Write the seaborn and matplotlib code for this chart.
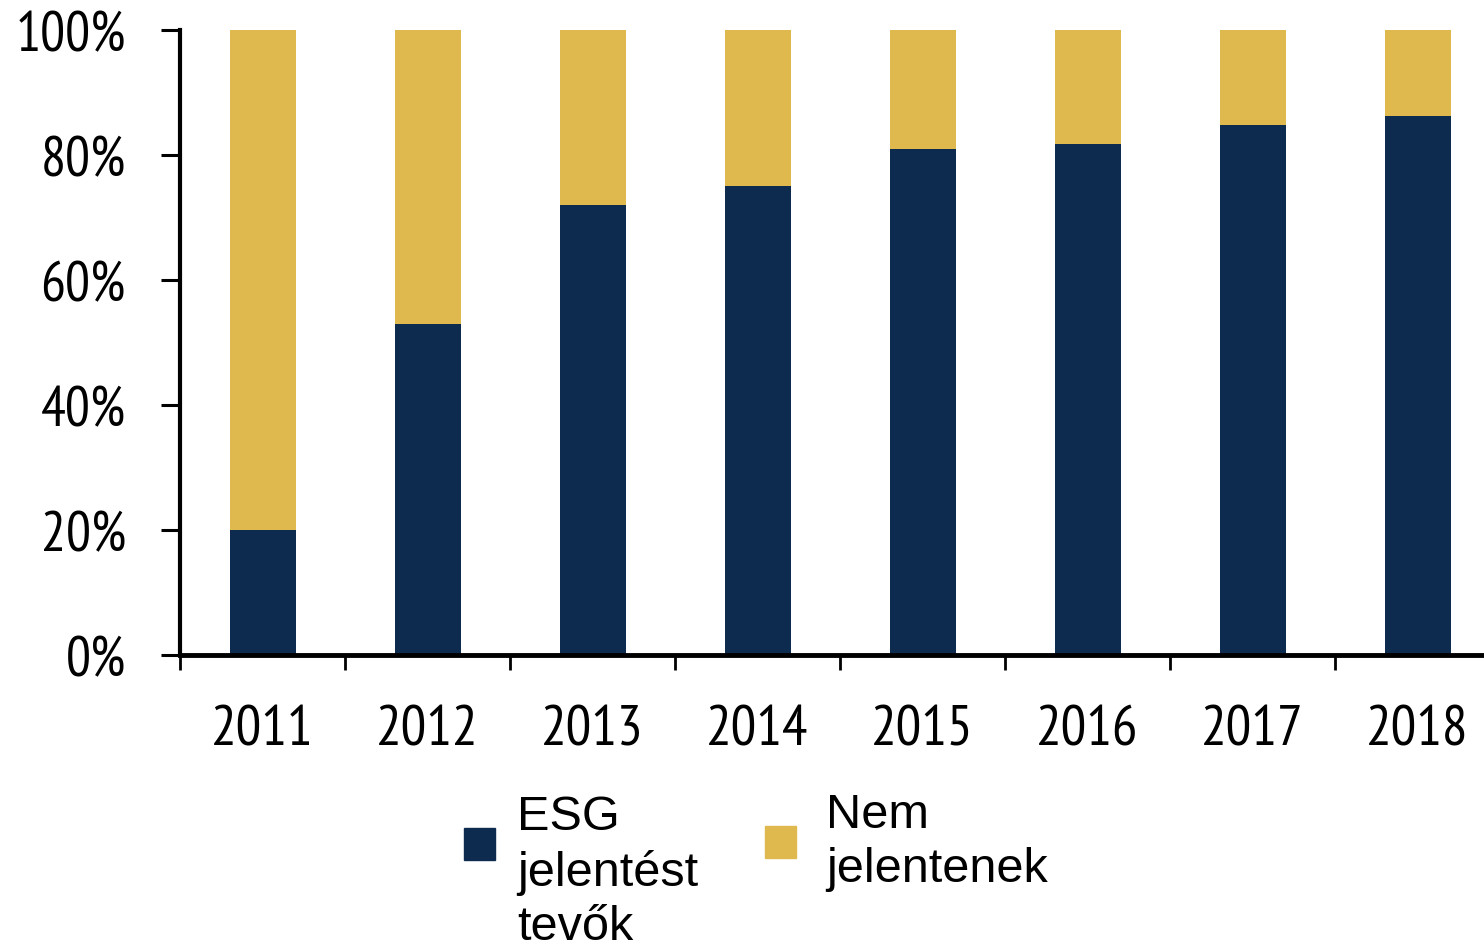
import numpy as np
import pandas as pd
import matplotlib
matplotlib.use('Agg')
import matplotlib.pyplot as plt
import seaborn as sns

# Data
years = ['2011', '2012', '2013', '2014', '2015', '2016', '2017', '2018']
esg_share = [20.0, 53.0, 72.0, 75.0, 81.0, 81.8, 84.8, 86.2]
total_share = [100.0] * len(years)
label_esg = 'ESG\njelentést\ntevők'
label_nem = 'Nem\njelentenek'

navy = '#0D2A4F'
gold = '#E0B94E'

sns.set_style('white')
plt.rcParams['font.family'] = ['Liberation Sans', 'DejaVu Sans']
plt.rcParams['text.color'] = 'black'
plt.rcParams['xtick.color'] = 'black'
plt.rcParams['ytick.color'] = 'black'
narrow = ['Liberation Sans Narrow', 'Arial Narrow', 'PT Sans Narrow', 'Archivo Narrow',
          'Roboto Condensed', 'Liberation Sans']

df = pd.DataFrame({'year': years, 'esg': esg_share, 'total': total_share})

fig = plt.figure(figsize=(14.84, 9.53), dpi=100)
ax = fig.add_axes([180 / 1484, 1 - 656 / 953, 1 - 180 / 1484, (656 - 31) / 953])

sns.barplot(data=df, x='year', y='total', color=gold, width=0.4, saturation=1,
            linewidth=0, ax=ax, zorder=2)
sns.barplot(data=df, x='year', y='esg', color=navy, width=0.4, saturation=1,
            linewidth=0, ax=ax, zorder=3)

ax.set_xlabel('')
ax.set_ylabel('')

ax.set_yticks(np.arange(0, 101, 20))
ax.set_yticklabels([f'{v}%' for v in range(0, 101, 20)], fontsize=40, family=narrow)
ax.tick_params(axis='y', direction='out', length=14, width=2.2, pad=25, left=True)

ax.set_xticks(range(len(years)))
ax.set_xticklabels(years, fontsize=41, family=narrow)
ax.tick_params(axis='x', which='major', length=0, pad=36)
ax.set_xticks(np.arange(-0.5, len(years) - 0.6, 1.0), minor=True)
ax.tick_params(axis='x', which='minor', direction='out', length=11, width=2, bottom=True)

ax.set_xlim(-0.5, 7.403)
ax.set_ylim(0, 100)

for side in ['top', 'right']:
    ax.spines[side].set_visible(False)
ax.spines['left'].set_linewidth(3)
ax.spines['bottom'].set_linewidth(3.5)
ax.spines['left'].set_color('black')
ax.spines['bottom'].set_color('black')
ax.spines['bottom'].set_zorder(5)

# legend: one box per entry, so that each can be placed like in the reference
leg_kw = dict(frameon=False, fontsize=35, handlelength=0.64, handleheight=0.64,
              borderaxespad=0, borderpad=0, loc='upper left')
leg1 = fig.legend([plt.Rectangle((0, 0), 1, 1, color=navy)], [label_esg],
                  bbox_to_anchor=(464 / 1484, 1 - 795 / 953), handletextpad=0.45, **leg_kw)
leg2 = fig.legend([plt.Rectangle((0, 0), 1, 1, color=gold)], [label_nem],
                  bbox_to_anchor=(765 / 1484, 1 - 793 / 953), handletextpad=0.62, **leg_kw)
for leg in (leg1, leg2):
    for t in leg.get_texts():
        t.set_linespacing(1.27)
# the marker of the three-line label sits between its first two lines
h = leg1.legend_handles[0]
h.set_y(h.get_y() + 20)

fig.savefig('out.png', dpi=100, facecolor='white')
